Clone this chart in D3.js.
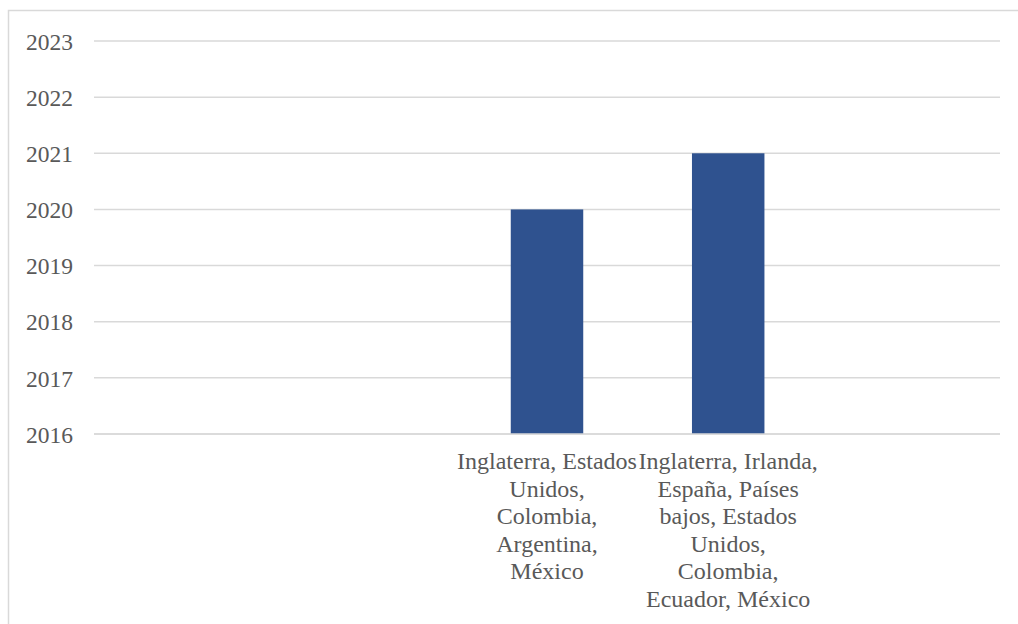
<!DOCTYPE html>
<html>
<head>
<meta charset="utf-8">
<script src="https://cdn.jsdelivr.net/npm/d3@7"></script>
<style>
  html, body { margin: 0; padding: 0; background: #ffffff; }
  svg { display: block; }
</style>
</head>
<body>
<svg id="chart" width="1018" height="624"></svg>
<script>
// Data
const categories = [
  "",
  "",
  "Inglaterra, Estados\nUnidos,\nColombia,\nArgentina,\nMéxico",
  "Inglaterra, Irlanda,\nEspaña, Países\nbajos, Estados\nUnidos,\nColombia,\nEcuador, México",
  ""
];
const values = [null, null, 2020, 2021, null];
const yTicks = [2016, 2017, 2018, 2019, 2020, 2021, 2022, 2023];

const svg = d3.select("#chart");
const font = "Liberation Serif";
const textColor = "#595959";
const gridColor = "#d9d9d9";
const barColor = "#2F528F";

// Outer border
svg.append("rect")
  .attr("x", 8.5).attr("y", 10.5)
  .attr("width", 1030).attr("height", 700)
  .attr("fill", "#fff")
  .attr("stroke", gridColor).attr("stroke-width", 1.5);

const x = d3.scaleBand()
  .domain(d3.range(categories.length))
  .range([94, 1000])
  .paddingInner(0.6)
  .paddingOuter(0.3);

const y = d3.scaleLinear()
  .domain([2016, 2023])
  .range([434, 41]);

// Gridlines
svg.append("g")
  .selectAll("line")
  .data(yTicks)
  .join("line")
  .attr("x1", 94).attr("x2", 1000)
  .attr("y1", d => y(d)).attr("y2", d => y(d))
  .attr("stroke", gridColor)
  .attr("stroke-width", 1.5);

// Y axis labels
const yAxis = d3.axisLeft(y).tickValues(yTicks).tickFormat(d3.format("d")).tickSize(0).tickPadding(0);
const gy = svg.append("g").attr("transform", "translate(73,0)").call(yAxis);
gy.select(".domain").remove();
gy.attr("font-family", null).attr("font-size", null);
gy.selectAll("text")
  .style("font-family", font)
  .style("font-size", "23.5px")
  .attr("fill", textColor)
  .attr("dy", "0.35em");

// Bars
const data = categories.map((c, i) => ({ i, c, v: values[i] }));
svg.append("g")
  .selectAll("rect")
  .data(data.filter(d => d.v != null))
  .join("rect")
  .attr("x", d => x(d.i))
  .attr("width", x.bandwidth())
  .attr("y", d => y(d.v))
  .attr("height", d => y(2016) - y(d.v))
  .attr("fill", barColor);

// Baseline gridline on top of bars
svg.append("line")
  .attr("x1", 94).attr("x2", 1000)
  .attr("y1", y(2016)).attr("y2", y(2016))
  .attr("stroke", gridColor).attr("stroke-width", 1.5);

// Category labels
const gx = svg.append("g");
data.forEach(d => {
  if (!d.c) return;
  const cx = x(d.i) + x.bandwidth() / 2;
  const t = gx.append("text")
    .attr("text-anchor", "middle")
    .style("font-family", font)
    .style("font-size", "24px")
    .attr("fill", textColor);
  d.c.split("\n").forEach((line, k) => {
    t.append("tspan")
      .attr("x", cx)
      .attr("y", 469 + k * 27.6)
      .text(line);
  });
});
</script>
</body>
</html>
